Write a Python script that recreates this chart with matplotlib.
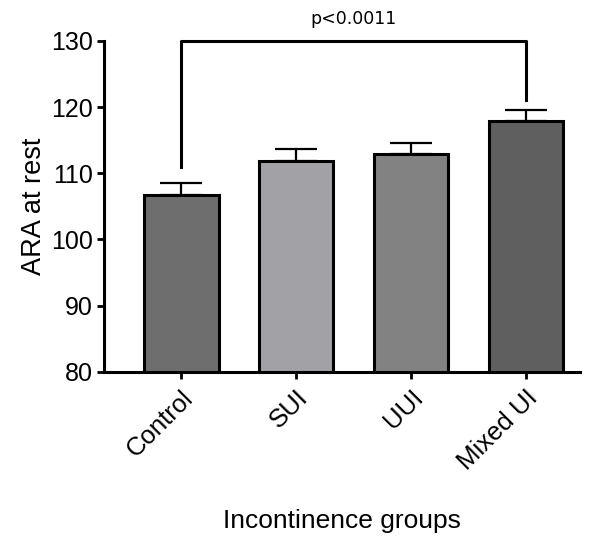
import matplotlib
matplotlib.use("Agg")
import matplotlib.pyplot as plt

GROUPS = ["Control", "SUI", "UUI", "Mixed UI"]
MEANS = [106.7, 111.9, 112.9, 117.9]
ERRORS = [1.8, 1.8, 1.7, 1.7]
COLORS = ["#6e6e6e", "#a2a1a5", "#828282", "#5f5f5f"]
P_TEXT = "p<0.0011"

plt.rcParams["font.family"] = ["Liberation Sans", "DejaVu Sans"]

fig = plt.figure(figsize=(5.99, 5.38), dpi=100)
ax = fig.add_axes([0.174, 0.309, 0.794, 0.615])

x = list(range(len(GROUPS)))
ax.bar(x, [m - 80 for m in MEANS], bottom=80, width=0.65, color=COLORS,
       edgecolor="black", linewidth=2.2, zorder=3)
ax.errorbar(x, MEANS, yerr=[[0] * 4, ERRORS], fmt="none", ecolor="black",
            elinewidth=1.6, capsize=15, capthick=1.6, zorder=2)

ax.set_ylim(80, 130)
ax.set_xlim(-0.67, 3.47)
ax.set_yticks([80, 90, 100, 110, 120, 130])
ax.set_xticks(x)
ax.set_xticklabels(GROUPS, rotation=45, ha="right", rotation_mode="anchor")

for s in ["top", "right"]:
    ax.spines[s].set_visible(False)
for s in ["left", "bottom"]:
    ax.spines[s].set_linewidth(2.2)
ax.tick_params(axis="both", width=2, length=5)
ax.tick_params(axis="x", pad=5, labelsize=18.5)
ax.tick_params(axis="y", pad=3, labelsize=18)

ax.set_ylabel("ARA at rest", fontsize=19.5, labelpad=3)
ax.set_xlabel("Incontinence groups", fontsize=19, labelpad=25)

# significance bracket
ax.plot([0, 0, 3, 3], [111, 130, 130, 121.1], color="black", lw=2.2,
        clip_on=False, zorder=4)
ax.text(1.5, 133.3, P_TEXT, ha="center", va="center", fontsize=12.5,
        family="DejaVu Sans")

fig.savefig("out.png", dpi=100)
